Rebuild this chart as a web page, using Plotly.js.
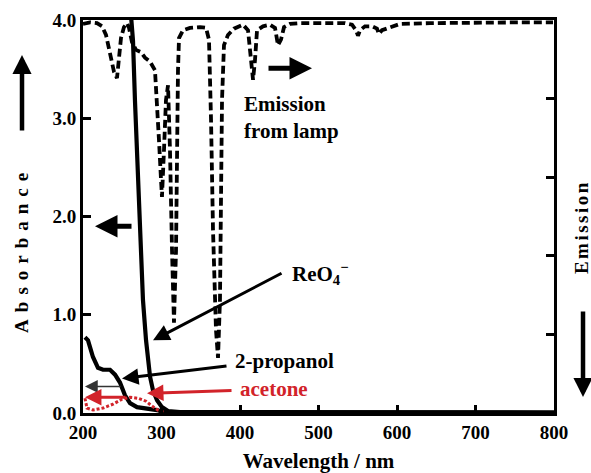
<!DOCTYPE html>
<html>
<head>
<meta charset="utf-8">
<script src="https://cdn.plot.ly/plotly-3.0.1.min.js"></script>
<style>html,body{margin:0;padding:0;background:#fff;}#chart{width:591px;height:473px;}</style>
</head>
<body>
<div id="chart"></div>
<script>
// Emission from lamp (relative, increasing downward on right axis)
var emWl = [200, 208.9, 217.8, 224.2, 229.3, 234.4, 239.5, 243.3, 245.9, 248.4, 252.2, 256.1, 258.6, 262.4, 267.5, 273.9, 279.0, 285.4, 291.7, 294.3, 296.8, 299.4, 300.6, 303.2, 305.7, 308.3, 310.8, 313.4, 315.9, 318.5, 319.7, 321.0, 322.3, 327.4, 336.3, 349.0, 356.7, 360.5, 363.1, 365.6, 369.4, 372.0, 374.5, 375.8, 377.1, 379.6, 384.7, 392.4, 403.8, 410.2, 414.0, 416.6, 419.1, 421.7, 429.3, 438.2, 444.6, 448.4, 452.2, 456.1, 463.7, 476.4, 501.9, 533.8, 542.7, 547.8, 550.3, 552.9, 559.2, 568.2, 574.5, 577.1, 580.9, 591.1, 603.8, 642.0, 705.7, 756.7, 798.7];
var emVal = [0.05, 0.03, 0.04, 0.08, 0.19, 0.45, 0.66, 0.74, 0.51, 0.23, 0.09, 0.04, 0.10, 0.28, 0.38, 0.41, 0.48, 0.53, 0.64, 1.02, 1.53, 2.04, 2.25, 1.65, 1.02, 0.83, 1.65, 2.93, 3.85, 2.93, 1.65, 0.64, 0.23, 0.13, 0.10, 0.09, 0.10, 0.25, 1.27, 2.67, 3.94, 4.30, 3.56, 2.29, 1.02, 0.32, 0.19, 0.11, 0.06, 0.13, 0.45, 0.76, 0.51, 0.13, 0.08, 0.06, 0.10, 0.32, 0.25, 0.09, 0.05, 0.04, 0.04, 0.04, 0.06, 0.13, 0.20, 0.13, 0.08, 0.08, 0.11, 0.18, 0.13, 0.09, 0.05, 0.04, 0.03, 0.03, 0.03];

// ReO4- absorbance
var reWl = [261.1, 263.7, 266.2, 268.8, 271.3, 273.9, 276.4, 280.3, 282.8, 285.4, 289.2, 294.3, 300.6, 308.3, 323.6, 480, 800];
var reAbs = [4.05, 3.79, 3.18, 2.68, 2.17, 1.66, 1.15, 0.74, 0.54, 0.37, 0.23, 0.13, 0.06, 0.02, 0.01, 0.01, 0.005];

// 2-propanol absorbance
var ipWl = [202.5, 206.4, 212.7, 219.1, 225.5, 234.4, 240.8, 247.1, 253.5, 259.9, 268.8, 281.5, 294.3, 301.9, 320, 800];
var ipAbs = [0.77, 0.74, 0.57, 0.46, 0.44, 0.44, 0.39, 0.31, 0.18, 0.10, 0.06, 0.05, 0.03, 0.01, 0.005, 0.005];

// acetone absorbance
var acWl = [202.5, 205.1, 212.7, 225.5, 238.2, 249.7, 259.9, 270.1, 280.3, 287.9, 295.5, 304.5];
var acAbs = [0.15, 0.05, 0.03, 0.05, 0.09, 0.14, 0.16, 0.15, 0.12, 0.07, 0.03, 0.0];

var xTicks = [200, 300, 400, 500, 600, 700, 800];
var yTicks = [0, 1, 2, 3, 4];
var yTickText = ['0.0', '1.0', '2.0', '3.0', '4.0'];

var F = 'Liberation Serif';
var red = '#d2232a';

var traces = [
  {x: emWl, y: emVal, yaxis: 'y2', mode: 'lines', line: {color: '#000', width: 3.8, dash: '8px,4px'}, hoverinfo: 'none'},
  {x: reWl, y: reAbs, mode: 'lines', line: {color: '#000', width: 4.2}, hoverinfo: 'none'},
  {x: ipWl, y: ipAbs, mode: 'lines', line: {color: '#000', width: 4.2}, hoverinfo: 'none'},
  {x: acWl, y: acAbs, mode: 'lines', line: {color: red, width: 3, dash: '3px,2px'}, hoverinfo: 'none'}
];

function arr(x, y, ax, ay, color, w, size) {
  return {x: x, y: y, ax: ax, ay: ay, axref: 'x', ayref: 'y', xref: 'x', yref: 'y', text: '', showarrow: true,
    arrowhead: 2, arrowsize: size, arrowwidth: w, arrowcolor: color, standoff: 0, startstandoff: 0};
}
var tf = {family: F, size: 21, color: '#000', weight: 'bold'};

var annotations = [
  arr(491.7, 3.51, 434.4, 3.51, '#000', 5, 0.9),
  arr(215.3, 1.90, 263.7, 1.90, '#000', 5, 0.9),
  arr(289.2, 0.74, 454.8, 1.43, '#000', 3, 1.1),
  arr(249.7, 0.35, 384.7, 0.48, '#000', 3, 1.1),
  arr(202.5, 0.27, 249.7, 0.27, '#333', 1.6, 1.6),
  arr(281.5, 0.20, 391.1, 0.23, red, 3, 1.1),
  arr(202.5, 0.16, 256.1, 0.16, red, 3, 1.1),
  {x: 402.5, y: 3.01, xref: 'x', yref: 'y', text: 'Emission<br>from lamp', showarrow: false, xanchor: 'left', yanchor: 'middle', align: 'left', font: tf},
  {x: 463.7, y: 1.42, xref: 'x', yref: 'y', text: 'ReO<sub>4</sub><sup>\u2212</sup>', showarrow: false, xanchor: 'left', yanchor: 'middle', font: tf},
  {x: 391.1, y: 0.53, xref: 'x', yref: 'y', text: '2-propanol', showarrow: false, xanchor: 'left', yanchor: 'middle', font: tf},
  {x: 397.5, y: 0.24, xref: 'x', yref: 'y', text: 'acetone', showarrow: false, xanchor: 'left', yanchor: 'middle', font: {family: F, size: 21, color: red, weight: 'bold'}},
  {x: -0.1295, y: 0.415, xref: 'paper', yref: 'paper', xanchor: 'center', yanchor: 'middle', text: 'Absorbance', textangle: -90, showarrow: false, font: {family: F, size: 19, color: '#000', weight: 'bold'}},
  {x: -0.1295, y: 0.911, xref: 'paper', yref: 'paper', ax: 0, ay: 77, text: '', showarrow: true, arrowhead: 2, arrowsize: 0.85, arrowwidth: 4.5, arrowcolor: '#000', standoff: 0},
  {x: 1.0573, y: 0.473, xref: 'paper', yref: 'paper', xanchor: 'center', yanchor: 'middle', text: 'Emission', textangle: -90, showarrow: false, font: {family: F, size: 19, color: '#000', weight: 'bold'}},
  {x: 1.0616, y: 0.0407, xref: 'paper', yref: 'paper', ax: 0, ay: -87, text: '', showarrow: true, arrowhead: 2, arrowsize: 0.85, arrowwidth: 4.5, arrowcolor: '#000', standoff: 0}
];

var layout = {
  width: 591, height: 473,
  margin: {l: 83, r: 37, t: 20, b: 60},
  paper_bgcolor: '#fff', plot_bgcolor: '#fff',
  showlegend: false,
  font: {family: F, color: '#000'},
  xaxis: {
    range: [200, 800], tickvals: xTicks, ticktext: xTicks.map(String),
    ticks: 'inside', ticklen: 8, tickwidth: 3, tickcolor: '#000',
    showline: true, linewidth: 3, linecolor: '#000', mirror: true,
    showgrid: false, zeroline: false,
    tickfont: {family: F, size: 19, color: '#000', weight: 'bold'},
    title: {text: 'Wavelength / nm', font: {family: F, size: 21, color: '#000', weight: 'bold'}, standoff: 14}
  },
  yaxis: {
    range: [0, 4], tickvals: yTicks, ticktext: yTickText,
    ticks: 'inside', ticklen: 8, tickwidth: 3, tickcolor: '#000',
    showline: true, linewidth: 3, linecolor: '#000', mirror: true,
    showgrid: false, zeroline: false,
    tickfont: {family: F, size: 19, color: '#000', weight: 'bold'}
  },
  yaxis2: {
    overlaying: 'y', side: 'right', range: [5, 0], tickvals: [1, 2, 3, 4],
    ticks: 'inside', ticklen: 8, tickwidth: 3, tickcolor: '#000',
    showticklabels: false, showline: false, showgrid: false, zeroline: false
  },
  annotations: annotations
};

Plotly.newPlot('chart', traces, layout, {staticPlot: true, displayModeBar: false}).then(function (gd) {
  // widen the letter spacing of the two rotated axis labels, as in the reference
  var spacing = {11: '7px', 13: '2.5px'};
  Object.keys(spacing).forEach(function (i) {
    var g = gd.querySelector('g.annotation[data-index="' + i + '"] text.annotation-text');
    if (g) g.style.letterSpacing = spacing[i];
  });
});
</script>
</body>
</html>
